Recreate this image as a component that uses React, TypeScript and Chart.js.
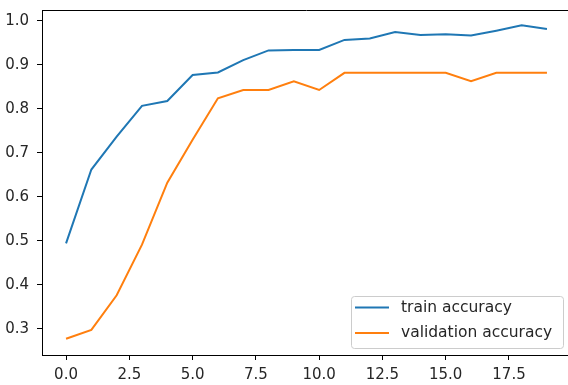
import React, { useEffect, useRef } from "react";
import { Chart, registerables } from "chart.js";

Chart.register(...registerables);

const epochs = [0, 1, 2, 3, 4, 5, 6, 7, 8, 9, 10, 11, 12, 13, 14, 15, 16, 17, 18, 19];
const trainAccuracy = [0.494, 0.662, 0.737, 0.807, 0.818, 0.877, 0.883, 0.911, 0.933, 0.934, 0.934, 0.957, 0.960, 0.975, 0.968, 0.970, 0.967, 0.978, 0.990, 0.982];
const validationAccuracy = [0.277, 0.297, 0.376, 0.491, 0.632, 0.73, 0.824, 0.843, 0.843, 0.863, 0.843, 0.882, 0.882, 0.882, 0.882, 0.882, 0.863, 0.882, 0.882, 0.882];
const seriesLabels = ["train accuracy", "validation accuracy"];
const seriesColors = ["#1f77b4", "#ff7f0e"];

const FONT = "DejaVu Sans";
const TEXT = "#262626";

const framePlugin = {
  id: "frame",
  afterDraw(chart: any) {
    const { ctx, chartArea } = chart;
    ctx.save();
    ctx.strokeStyle = "#000";
    ctx.lineWidth = 1;
    ctx.beginPath();
    ctx.moveTo(chartArea.left, chartArea.top + 0.5);
    ctx.lineTo(chartArea.right, chartArea.top + 0.5);
    ctx.stroke();

    // legend (lower right, matplotlib style)
    const ds = chart.data.datasets;
    const boxRight = chartArea.right - 8;
    const boxBottom = chartArea.bottom - 7;
    const w = 212;
    const h = 52;
    const x0 = boxRight - w;
    const y0 = boxBottom - h;
    ctx.fillStyle = "rgba(255,255,255,0.8)";
    ctx.strokeStyle = "#cccccc";
    ctx.lineWidth = 1;
    ctx.beginPath();
    (ctx as any).roundRect(x0 + 0.5, y0 + 0.5, w, h, 3);
    ctx.fill();
    ctx.stroke();
    ctx.font = `15.5px "${FONT}"`;
    ctx.textBaseline = "middle";
    ctx.textAlign = "left";
    ds.forEach((d: any, i: number) => {
      const cy = y0 + 11.5 + i * 25.4;
      ctx.strokeStyle = d.borderColor;
      ctx.lineWidth = 2;
      ctx.beginPath();
      ctx.moveTo(x0 + 4, cy);
      ctx.lineTo(x0 + 38, cy);
      ctx.stroke();
      ctx.fillStyle = TEXT;
      ctx.fillText(d.label, x0 + 50, cy);
    });
    ctx.restore();
  },
};

export default function App() {
  const ref = useRef<HTMLCanvasElement>(null);
  useEffect(() => {
    const canvas = ref.current!;
    const chart = new Chart(canvas, {
      type: "line",
      data: {
        datasets: [
          {
            label: seriesLabels[0],
            data: epochs.map((e, i) => ({ x: e, y: trainAccuracy[i] })),
            borderColor: seriesColors[0],
            backgroundColor: seriesColors[0],
            borderWidth: 2,
            pointRadius: 0,
            tension: 0,
          },
          {
            label: seriesLabels[1],
            data: epochs.map((e, i) => ({ x: e, y: validationAccuracy[i] })),
            borderColor: seriesColors[1],
            backgroundColor: seriesColors[1],
            borderWidth: 2,
            pointRadius: 0,
            tension: 0,
          },
        ],
      },
      options: {
        animation: false,
        responsive: false,
        devicePixelRatio: 1,
        layout: { padding: { top: 10, right: 5, left: 0, bottom: 0 } },
        plugins: { legend: { display: false }, tooltip: { enabled: false } },
        scales: {
          x: {
            type: "linear",
            min: -0.95,
            max: 19.95,
            afterFit: (s: any) => {
              s.height = 30;
              s.paddingLeft = 0;
              s.paddingRight = 0;
            },
            border: { display: true, color: "#000", width: 1 },
            grid: { drawOnChartArea: false, drawTicks: true, tickLength: 5, color: "#000", lineWidth: 1 },
            ticks: {
              stepSize: 2.5,
              includeBounds: false,
              autoSkip: false,
              maxRotation: 0,
              padding: 6,
              color: TEXT,
              font: { family: FONT, size: 15 },
              callback: (v: any) => Number(v).toFixed(1),
            },
          },
          y: {
            type: "linear",
            min: 0.24,
            max: 1.025,
            afterFit: (s: any) => {
              s.width = 42;
              s.paddingTop = 0;
              s.paddingBottom = 0;
            },
            border: { display: true, color: "#000", width: 1 },
            grid: { drawOnChartArea: false, drawTicks: true, tickLength: 5, color: "#000", lineWidth: 1 },
            ticks: {
              stepSize: 0.1,
              includeBounds: false,
              autoSkip: false,
              padding: 8,
              color: TEXT,
              font: { family: FONT, size: 15 },
              callback: (v: any) => Number(v).toFixed(1),
            },
          },
        },
      },
      plugins: [framePlugin],
    } as any);
    return () => chart.destroy();
  }, []);
  return (
    <div style={{ position: "fixed", left: 0, top: 0, width: 568, height: 385, overflow: "hidden", background: "#fff" }}>
      <canvas ref={ref} width={576} height={385} style={{ display: "block", width: 576, height: 385 }} />
    </div>
  );
}
